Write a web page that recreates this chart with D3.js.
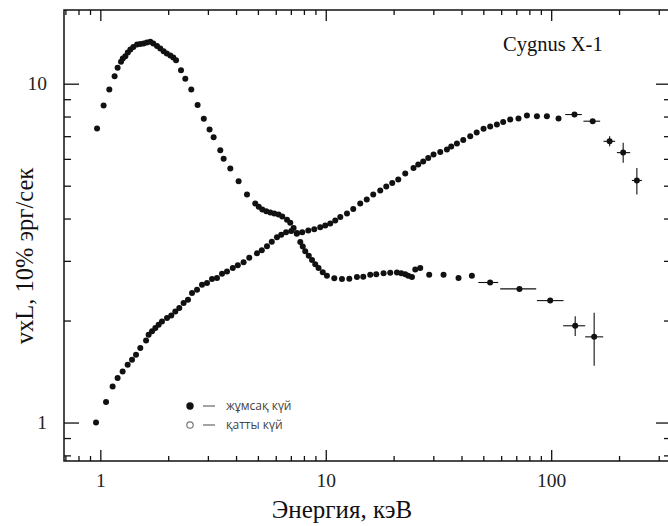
<!DOCTYPE html>
<html>
<head>
<meta charset="utf-8">
<script src="https://cdn.jsdelivr.net/npm/d3@7"></script>
<style>
  html, body { margin: 0; padding: 0; background: #fff; }
  svg { display: block; }
</style>
</head>
<body>
<svg id="chart" width="668" height="526"></svg>
<script>
// ---------------- DATA ----------------
// Soft state (жұмсақ күй): energy (keV) and nuL values
const softE = [0.967,1.034,1.096,1.157,1.193,1.235,1.258,1.291,1.324,1.359,1.401,1.455,1.504,1.556,1.608,1.666,1.718,1.784,1.845,1.909,1.972,2.044,2.107,2.167,2.280,2.382,2.532,2.701,2.877,3.052,3.181,3.405,3.524,3.772,4.106,4.473,4.868,5.045,5.229,5.446,5.675,5.909,6.175,6.413,6.73,6.96,7.20,7.437,7.71,7.907,8.11,8.407,8.69,8.982,9.29,9.698,10.12,10.91,11.80,12.72,13.75,14.67,15.75,16.75,18.05,19.32,20.69,21.62,22.52,23.22,24.12,24.95,26.25,28.77,33.30,38.81,44.48];
const softV = [7.37,8.62,9.61,10.52,11.14,11.61,11.87,12.06,12.37,12.62,12.84,13.06,13.10,13.15,13.24,13.30,13.15,12.91,12.71,12.47,12.28,12.12,11.95,11.73,10.96,10.34,9.61,8.65,7.88,7.32,6.95,6.36,6.00,5.62,5.15,4.71,4.43,4.337,4.25,4.206,4.17,4.136,4.11,4.053,3.97,3.89,3.75,3.61,3.41,3.305,3.20,3.108,3.02,2.934,2.86,2.778,2.71,2.667,2.65,2.658,2.69,2.695,2.73,2.741,2.76,2.769,2.77,2.76,2.74,2.713,2.69,2.83,2.86,2.73,2.73,2.67,2.71];
// Soft state points with error bars
const softErrE   = [53.6, 72.3, 99.0, 127.8, 155.1];
const softErrV   = [2.59, 2.48, 2.29, 1.93, 1.79];
const softErrElo = [47.5, 59.4, 86.4, 113.0, 141.5];
const softErrEhi = [58.2, 85.8, 113.4, 141.5, 170.1];
const softErrVlo = [null, null, null, 1.80, 1.47];
const softErrVhi = [null, null, null, 2.06, 2.11];

// Hard state (қатты күй)
const hardE = [0.957,1.060,1.134,1.193,1.256,1.322,1.382,1.440,1.504,1.595,1.638,1.696,1.754,1.814,1.877,1.976,2.064,2.151,2.240,2.341,2.448,2.551,2.685,2.825,2.973,3.129,3.292,3.466,3.647,3.869,4.073,4.320,4.578,4.953,5.203,5.486,5.762,6.074,6.348,6.668,7.031,7.455,7.866,8.366,8.892,9.455,9.949,10.47,11.02,11.60,12.42,13.24,14.22,15.20,16.24,17.45,18.55,19.72,20.97,22.52,24.51,25.72,27.06,28.48,30.07,32.20,34.47,36.02,38.18,40.72,43.74,46.73,50.11,53.63,57.43,61.24,65.80,71.62,78.04,86.44,95.7,107.8];
const hardV = [1.00,1.149,1.277,1.353,1.415,1.481,1.532,1.585,1.659,1.747,1.816,1.858,1.900,1.944,1.987,2.034,2.071,2.128,2.178,2.253,2.304,2.411,2.466,2.551,2.582,2.652,2.671,2.750,2.793,2.858,2.913,2.973,3.066,3.157,3.227,3.312,3.419,3.525,3.585,3.647,3.672,3.627,3.647,3.685,3.722,3.769,3.812,3.864,3.944,4.045,4.136,4.265,4.428,4.549,4.708,4.837,4.970,5.089,5.212,5.429,5.643,5.771,5.890,6.033,6.178,6.284,6.392,6.524,6.659,6.82,6.999,7.174,7.360,7.473,7.578,7.707,7.841,7.895,8.054,8.017,8.017,7.895];
const hardErrE   = [126.9, 152.8, 181.7, 208.6, 239.9];
const hardErrV   = [8.11, 7.75, 6.76, 6.26, 5.18];
const hardErrElo = [115.4, 139.0, 170.6, 195.6, 228.0];
const hardErrEhi = [136.8, 164.9, 192.2, 224.0, 252.5];
const hardErrVlo = [null, null, 6.54, 5.84, 4.71];
const hardErrVhi = [null, null, 7.00, 6.69, 5.64];

// Axes
const xMajor = [1, 10, 100];
const xMinor = [0.7,0.8,0.9,2,3,4,5,6,7,8,9,20,30,40,50,60,70,80,90,200,300];
const yMajor = [1, 10];
const yMinor = [0.8,0.9,2,3,4,5,6,7,8,9];
const xTickLabels = ["1", "10", "100"];
const yTickLabels = ["1", "10"];
const xTitle = "Энергия, кэВ";
const yTitle = "vxL, 10% эрг/сек";
const chartTitle = "Cygnus X-1";
const legendLabels = ["жұмсақ күй", "қатты күй"];

// ---------------- DRAW ----------------
const svg = d3.select("#chart");
const L = 64, R = 671, T = 10, B = 461;
const x = d3.scaleLog().domain([0.69, 340]).range([L, R]);
const y = d3.scaleLog().domain([0.77, 16.5]).range([B, T]);
const serif = "'Liberation Serif', 'Times New Roman', serif";

// frame
svg.append("rect").attr("x", L).attr("y", T).attr("width", R - L).attr("height", B - T)
  .attr("fill", "none").attr("stroke", "#111").attr("stroke-width", 1.5);

function styleAxis(g) {
  g.select(".domain").remove();
  g.selectAll("line").attr("stroke", "#111").attr("stroke-width", 1.3);
  g.selectAll("text").attr("font-family", serif).attr("font-size", 19.5).attr("fill", "#222");
}

// bottom
svg.append("g").attr("transform", `translate(0,${B})`)
  .call(d3.axisBottom(x).tickValues(xMajor).tickSize(-11).tickPadding(12)
    .tickFormat((d, i) => xTickLabels[i])).call(styleAxis);
svg.append("g").attr("transform", `translate(0,${B})`)
  .call(d3.axisBottom(x).tickValues(xMinor).tickSize(-5).tickFormat("")).call(styleAxis);
// top
svg.append("g").attr("transform", `translate(0,${T})`)
  .call(d3.axisTop(x).tickValues(xMajor).tickSize(-11).tickFormat("")).call(styleAxis);
svg.append("g").attr("transform", `translate(0,${T})`)
  .call(d3.axisTop(x).tickValues(xMinor).tickSize(-5).tickFormat("")).call(styleAxis);
// left
svg.append("g").attr("transform", `translate(${L},0)`)
  .call(d3.axisLeft(y).tickValues(yMajor).tickSize(-15).tickPadding(17)
    .tickFormat((d, i) => yTickLabels[i])).call(styleAxis);
svg.append("g").attr("transform", `translate(${L},0)`)
  .call(d3.axisLeft(y).tickValues(yMinor).tickSize(-7).tickFormat("")).call(styleAxis);
// right
svg.append("g").attr("transform", `translate(${R},0)`)
  .call(d3.axisRight(y).tickValues(yMajor).tickSize(-15).tickFormat("")).call(styleAxis);
svg.append("g").attr("transform", `translate(${R},0)`)
  .call(d3.axisRight(y).tickValues(yMinor).tickSize(-7).tickFormat("")).call(styleAxis);

// titles
svg.append("text").attr("x", 342).attr("y", 518).attr("text-anchor", "middle")
  .attr("font-family", serif).attr("font-size", 25).attr("fill", "#111").text(xTitle);
svg.append("text").attr("transform", `translate(33,256) rotate(-90)`).attr("text-anchor", "middle")
  .attr("font-family", serif).attr("font-size", 24.5).attr("fill", "#111").text(yTitle);
svg.append("text").attr("x", 503).attr("y", 51)
  .attr("font-family", serif).attr("font-size", 20.5).attr("fill", "#111").text(chartTitle);

// error bars
function errBars(E, V, Elo, Ehi, Vlo, Vhi) {
  const g = svg.append("g").attr("stroke", "#111").attr("stroke-width", 1.1);
  E.forEach((e, i) => {
    g.append("line").attr("x1", x(Elo[i])).attr("x2", x(Ehi[i])).attr("y1", y(V[i])).attr("y2", y(V[i]));
    if (Vlo[i] != null) {
      g.append("line").attr("x1", x(e)).attr("x2", x(e)).attr("y1", y(Vlo[i])).attr("y2", y(Vhi[i]));
    }
  });
}
errBars(softErrE, softErrV, softErrElo, softErrEhi, softErrVlo, softErrVhi);
errBars(hardErrE, hardErrV, hardErrElo, hardErrEhi, hardErrVlo, hardErrVhi);

// points
function dots(E, V, r) {
  svg.append("g").selectAll("circle").data(E).join("circle")
    .attr("cx", d => x(d)).attr("cy", (d, i) => y(V[i])).attr("r", r).attr("fill", "#111");
}
dots(softE, softV, 3);
dots(hardE, hardV, 3);
dots(softErrE, softErrV, 3);
dots(hardErrE, hardErrV, 3);

// legend
const lg = svg.append("g").attr("font-family", "'Open Sans', 'Noto Sans', sans-serif")
  .attr("font-size", 12).attr("fill", "#444");
const ly = [406, 425];
lg.append("circle").attr("cx", 190).attr("cy", ly[0]).attr("r", 3.7).attr("fill", "#111");
lg.append("circle").attr("cx", 190).attr("cy", ly[1]).attr("r", 3.2).attr("fill", "none")
  .attr("stroke", "#777").attr("stroke-width", 1.2);
ly.forEach((yy, i) => {
  lg.append("line").attr("x1", 203).attr("x2", 215).attr("y1", yy).attr("y2", yy)
    .attr("stroke", "#666").attr("stroke-width", 1.2);
  lg.append("text").attr("x", 226).attr("y", yy + 4.2).text(legendLabels[i]);
});
</script>
</body>
</html>
